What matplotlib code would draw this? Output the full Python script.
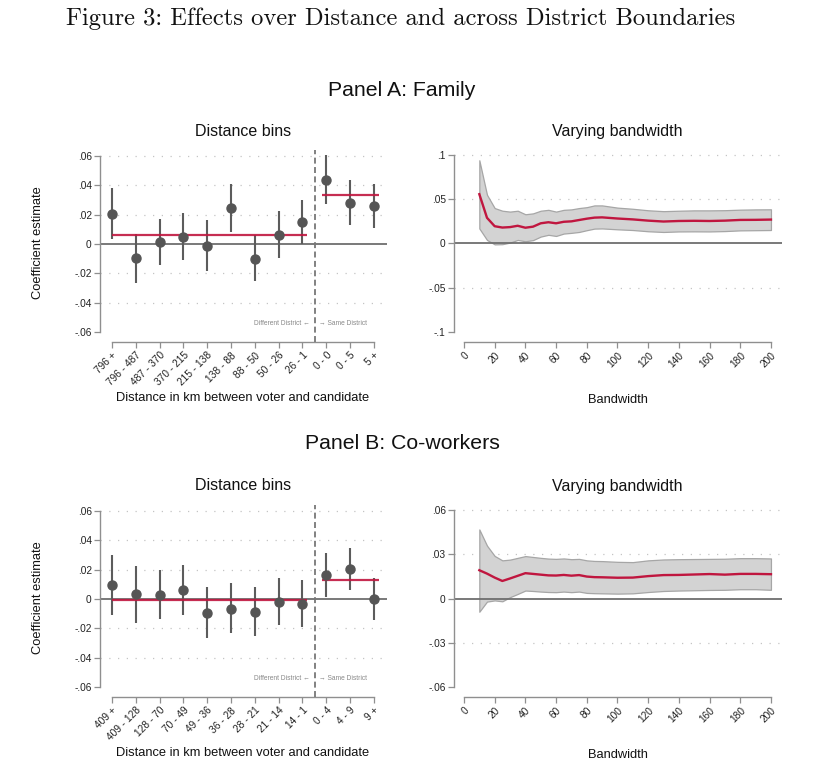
import matplotlib
matplotlib.use("Agg")
import matplotlib.pyplot as plt

# ---------------- data ----------------
fam_labels = ["796 +", "796 - 487", "487 - 370", "370 - 215", "215 - 138", "138 - 88",
              "88 - 50", "50 - 26", "26 - 1", "0 - 0", "0 - 5", "5 +"]
fam_est = [0.0207, -0.0095, 0.0016, 0.0050, -0.0011, 0.0243, -0.0100, 0.0064, 0.0148, 0.0436, 0.0280, 0.0261]
fam_lo = [0.0032, -0.0264, -0.0141, -0.0107, -0.0182, 0.0084, -0.0255, -0.0093, 0.0000, 0.0270, 0.0127, 0.0111]
fam_hi = [0.0382, 0.0070, 0.0173, 0.0211, 0.0164, 0.0409, 0.0059, 0.0223, 0.0300, 0.0605, 0.0436, 0.0411]
fam_pooled = [0.0059, 0.0334]   # different district, same district

cow_labels = ["409 +", "409 - 128", "128 - 70", "70 - 49", "49 - 36", "36 - 28",
              "28 - 21", "21 - 14", "14 - 1", "0 - 4", "4 - 9", "9 +"]
cow_est = [0.0093, 0.0032, 0.0029, 0.0059, -0.0093, -0.0066, -0.0091, -0.0018, -0.0032, 0.0163, 0.0204, 0.0000]
cow_lo = [-0.0111, -0.0161, -0.0138, -0.0111, -0.0265, -0.0235, -0.0254, -0.0179, -0.0190, 0.0016, 0.0063, -0.0145]
cow_hi = [0.0297, 0.0226, 0.0199, 0.0229, 0.0079, 0.0106, 0.0079, 0.0145, 0.0131, 0.0312, 0.0346, 0.0145]
cow_pooled = [-0.0009, 0.0129]

bw = [10, 15, 20, 25, 30, 35, 40, 45, 50, 55, 60, 65, 70, 75, 80, 85, 90,
      100, 110, 120, 130, 140, 150, 160, 170, 180, 190, 200]
fam_bw_est = [0.0557, 0.0290, 0.0195, 0.0180, 0.0185, 0.0200, 0.0178, 0.0190, 0.0228, 0.0240, 0.0228,
              0.0245, 0.0250, 0.0265, 0.0280, 0.0292, 0.0295, 0.0282, 0.0272, 0.0258, 0.0248, 0.0254,
              0.0256, 0.0254, 0.0258, 0.0266, 0.0267, 0.0270]
fam_bw_lo = [0.0170, 0.0040, -0.0010, -0.0008, 0.0010, 0.0040, 0.0025, 0.0038, 0.0078, 0.0098, 0.0085,
             0.0112, 0.0120, 0.0130, 0.0150, 0.0168, 0.0170, 0.0160, 0.0152, 0.0138, 0.0130, 0.0136,
             0.0137, 0.0136, 0.0140, 0.0148, 0.0150, 0.0152]
fam_bw_hi = [0.0940, 0.0550, 0.0400, 0.0370, 0.0360, 0.0370, 0.0330, 0.0340, 0.0370, 0.0380, 0.0360,
             0.0380, 0.0385, 0.0400, 0.0410, 0.0430, 0.0430, 0.0405, 0.0392, 0.0375, 0.0365, 0.0370,
             0.0374, 0.0374, 0.0376, 0.0382, 0.0385, 0.0386]

cow_bw_est = [0.0193, 0.0170, 0.0143, 0.0120, 0.0137, 0.0155, 0.0173, 0.0168, 0.0163, 0.0158, 0.0157,
              0.0161, 0.0156, 0.0160, 0.0150, 0.0146, 0.0145, 0.0142, 0.0143, 0.0153, 0.0160, 0.0161,
              0.0164, 0.0167, 0.0163, 0.0168, 0.0168, 0.0166]
cow_bw_lo = [-0.0089, -0.0020, -0.0012, -0.0018, 0.0010, 0.0032, 0.0055, 0.0052, 0.0048, 0.0045, 0.0044,
             0.0048, 0.0044, 0.0048, 0.0039, 0.0037, 0.0036, 0.0034, 0.0036, 0.0045, 0.0052, 0.0055,
             0.0057, 0.0059, 0.0060, 0.0064, 0.0064, 0.0060]
cow_bw_hi = [0.0470, 0.0360, 0.0290, 0.0260, 0.0265, 0.0277, 0.0289, 0.0283, 0.0277, 0.0272, 0.0270,
             0.0273, 0.0268, 0.0270, 0.0260, 0.0256, 0.0255, 0.0250, 0.0248, 0.0260, 0.0266, 0.0268,
             0.0269, 0.0270, 0.0271, 0.0275, 0.0275, 0.0273]

bin_yticks = [-0.06, -0.04, -0.02, 0, 0.02, 0.04, 0.06]
bin_ylabels = ["-.06", "-.04", "-.02", "0", ".02", ".04", ".06"]
fam_bw_yticks = [-0.1, -0.05, 0, 0.05, 0.1]
fam_bw_ylabels = ["-.1", "-.05", "0", ".05", ".1"]
cow_bw_yticks = [-0.06, -0.03, 0, 0.03, 0.06]
cow_bw_ylabels = ["-.06", "-.03", "0", ".03", ".06"]
bw_xticks = [0, 20, 40, 60, 80, 100, 120, 140, 160, 180, 200]

# ---------------- style ----------------
W, H = 835, 772
SANS = ["Liberation Sans", "DejaVu Sans"]
RED = "#c0163f"
DOT = "#555555"
AXC = "#8f8f8f"

fig = plt.figure(figsize=(W / 100, H / 100), dpi=100)
fig.patch.set_facecolor("white")


def ax_at(x0, y0, x1, y1):
    return fig.add_axes([x0 / W, 1 - y1 / H, (x1 - x0) / W, (y1 - y0) / H])


def ftext(x, y, s, **kw):
    kw.setdefault("ha", "center")
    kw.setdefault("va", "center")
    kw.setdefault("family", SANS)
    fig.text(x / W, 1 - y / H, s, **kw)


def style(ax, yticks, ylabels, xticks, xlabels, xb):
    for s in ["top", "right"]:
        ax.spines[s].set_visible(False)
    for s in ["left", "bottom"]:
        ax.spines[s].set_color(AXC)
        ax.spines[s].set_linewidth(1.0)
    ax.spines["left"].set_bounds(yticks[0], yticks[-1])
    ax.spines["bottom"].set_bounds(xb[0], xb[1])
    ax.set_yticks(yticks)
    ax.set_yticklabels(ylabels, family=SANS)
    ax.set_xticks(xticks)
    ax.set_xticklabels(xlabels, rotation=45, ha="right", rotation_mode="anchor", family=SANS)
    ax.tick_params(direction="out", length=4, width=0.9, color=AXC, labelsize=7.3,
                   labelcolor="#222222", pad=2)
    for t in yticks[1:]:
        if t != 0:
            ax.axhline(t, color="#c4c4c4", lw=0.9, ls=(0, (1, 6)), zorder=0)
    ax.axhline(0, color="#6e6e6e", lw=1.3, zorder=2)
    ax.set_facecolor("white")


def bins_panel(ax, labels, est, lo, hi, pooled):
    n = len(labels)
    xs = list(range(n))
    ax.set_xlim(-0.5, 11.55)
    ax.set_ylim(-0.0668, 0.0641)
    style(ax, bin_yticks, bin_ylabels, xs, labels, (0, n - 1))
    ax.vlines(xs, lo, hi, color="#5c5c5c", lw=1.5, zorder=3)
    ax.plot(xs, est, "o", ms=6.5, color=DOT, mec=DOT, zorder=5)
    ax.hlines(pooled[0], 0, 8.2, color=RED, lw=1.6, alpha=0.9, zorder=4)
    ax.hlines(pooled[1], 8.83, 11.2, color=RED, lw=1.6, alpha=0.9, zorder=4)
    ax.axvline(8.52, color="#777777", lw=1.3, ls=(0, (3.3, 1.9)), zorder=3)
    ax.text(8.3, -0.0545, "Different District \u2190", ha="right", va="center",
            fontsize=4.8, color="#888888", family=SANS)
    ax.text(8.7, -0.0545, "\u2192 Same District", ha="left", va="center",
            fontsize=4.8, color="#888888", family=SANS)


def bw_panel(ax, est, lo, hi, yticks, ylabels, ylim):
    ax.set_xlim(-6.5, 207.2)
    ax.set_ylim(*ylim)
    style(ax, yticks, ylabels, bw_xticks, [str(t) for t in bw_xticks], (0, 200))
    ax.fill_between(bw, lo, hi, facecolor="#d3d3d3", edgecolor="#a6a6a6", lw=0.9, zorder=1)
    ax.plot(bw, est, color=RED, lw=1.7, zorder=4)


# Panel A
axA1 = ax_at(100, 150, 387, 342)
bins_panel(axA1, fam_labels, fam_est, fam_lo, fam_hi, fam_pooled)
axA2 = ax_at(454, 150, 782, 342)
bw_panel(axA2, fam_bw_est, fam_bw_lo, fam_bw_hi, fam_bw_yticks, fam_bw_ylabels, (-0.1113, 0.1056))

# Panel B
axB1 = ax_at(100, 505, 387, 697)
bins_panel(axB1, cow_labels, cow_est, cow_lo, cow_hi, cow_pooled)
axB2 = ax_at(454, 505, 782, 697)
bw_panel(axB2, cow_bw_est, cow_bw_lo, cow_bw_hi, cow_bw_yticks, cow_bw_ylabels, (-0.0668, 0.0636))

# texts
ftext(401, 19, "Figure 3: Effects over Distance and across District Boundaries",
      family=["cmr10", "DejaVu Serif"], fontsize=17.7, color="#111111")
ftext(402, 90, "Panel A: Family", fontsize=15.3, color="#111111")
ftext(402, 443, "Panel B: Co-workers", fontsize=15.3, color="#111111")
for yy in (131, 486):
    ftext(243, yy, "Distance bins", fontsize=11.5, color="#111111")
    ftext(617, yy + 0.5, "Varying bandwidth", fontsize=11.5, color="#111111")
ftext(243, 398, "Distance in km between voter and candidate", fontsize=9.3, color="#111111")
ftext(243, 753, "Distance in km between voter and candidate", fontsize=9.3, color="#111111")
ftext(618, 400, "Bandwidth", fontsize=9.3, color="#111111")
ftext(618, 755, "Bandwidth", fontsize=9.3, color="#111111")
ftext(38, 243, "Coefficient estimate", fontsize=9.3, rotation=90, color="#111111")
ftext(38, 598, "Coefficient estimate", fontsize=9.3, rotation=90, color="#111111")

fig.savefig("out.png", dpi=100, facecolor="white")
